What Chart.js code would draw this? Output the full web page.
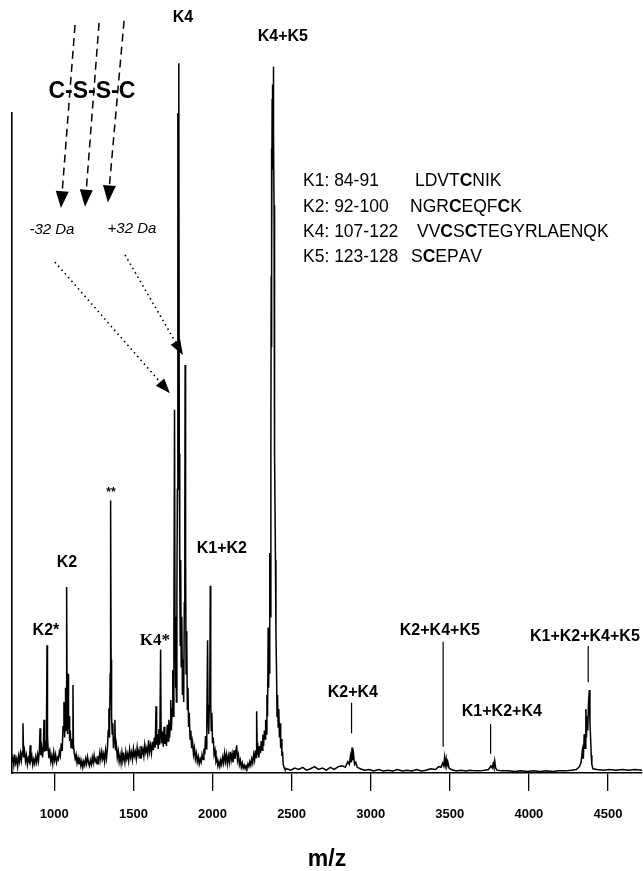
<!DOCTYPE html>
<html>
<head>
<meta charset="utf-8">
<script src="https://cdn.jsdelivr.net/npm/chart.js@4.4.1/dist/chart.umd.min.js"></script>
<style>
  html, body { margin: 0; padding: 0; background: #fff; }
  canvas { display: block; }
</style>
</head>
<body>
<canvas id="chart" width="643" height="871"></canvas>
<script>
// MALDI spectrum trace (m/z, relative intensity)
const mz = [
  731, 738, 744, 750, 756, 762, 768, 774, 780, 786,
  792, 797, 802, 806, 812, 818, 824, 830, 836, 842,
  848, 852, 858, 864, 870, 876, 882, 888, 894, 900,
  906, 910, 914, 920, 926, 931, 935, 939, 944, 948,
  951, 954, 957, 961, 966, 972, 978, 984, 990, 996,
  1002, 1008, 1014, 1020, 1026, 1032, 1038, 1044, 1050, 1055,
  1061, 1065, 1068, 1071, 1074, 1078, 1081, 1084, 1087, 1090,
  1093, 1097, 1101, 1106, 1111, 1115, 1118, 1121, 1126, 1132,
  1138, 1144, 1150, 1156, 1162, 1168, 1174, 1180, 1186, 1192,
  1198, 1204, 1210, 1216, 1222, 1228, 1234, 1240, 1246, 1252,
  1258, 1264, 1270, 1276, 1282, 1288, 1294, 1300, 1306, 1312,
  1318, 1324, 1330, 1336, 1341, 1345, 1349, 1353, 1356, 1359,
  1362, 1366, 1370, 1374, 1378, 1383, 1387, 1392, 1398, 1404,
  1410, 1416, 1422, 1428, 1434, 1440, 1446, 1452, 1458, 1464,
  1470, 1476, 1482, 1488, 1494, 1500, 1506, 1512, 1518, 1524,
  1530, 1536, 1542, 1548, 1554, 1560, 1566, 1572, 1578, 1584,
  1590, 1596, 1602, 1608, 1614, 1620, 1626, 1632, 1638, 1643,
  1647, 1652, 1657, 1662, 1667, 1672, 1675, 1679, 1684, 1689,
  1694, 1699, 1704, 1709, 1714, 1719, 1724, 1729, 1733, 1736,
  1740, 1745, 1749, 1753, 1756, 1760, 1763, 1766, 1769, 1772,
  1775, 1778, 1781, 1784, 1787, 1790, 1793, 1796, 1799, 1802,
  1806, 1810, 1814, 1818, 1822, 1825, 1827, 1830, 1833, 1837,
  1841, 1845, 1849, 1853, 1858, 1863, 1868, 1874, 1880, 1886,
  1892, 1898, 1904, 1910, 1916, 1922, 1928, 1934, 1940, 1946,
  1951, 1956, 1960, 1964, 1969, 1972, 1976, 1980, 1983, 1986,
  1989, 1992, 1996, 2000, 2005, 2010, 2016, 2022, 2028, 2034,
  2040, 2046, 2052, 2058, 2064, 2070, 2076, 2082, 2088, 2094,
  2100, 2106, 2112, 2118, 2124, 2130, 2136, 2142, 2148, 2153,
  2158, 2164, 2170, 2176, 2182, 2188, 2194, 2200, 2206, 2212,
  2218, 2224, 2230, 2236, 2242, 2248, 2254, 2260, 2266, 2271,
  2275, 2279, 2283, 2288, 2293, 2298, 2303, 2308, 2313, 2318,
  2323, 2328, 2332, 2336, 2340, 2344, 2348, 2352, 2355, 2358,
  2361, 2363, 2366, 2369, 2371, 2372, 2374, 2375, 2377, 2378,
  2380, 2381, 2383, 2384, 2386, 2387, 2389, 2390, 2392, 2395,
  2398, 2401, 2405, 2408, 2411, 2415, 2419, 2423, 2427, 2431,
  2435, 2439, 2443, 2447, 2452, 2458, 2470,
  2495, 2520, 2545, 2570, 2595, 2620, 2645, 2670, 2695, 2720,
  2745, 2770, 2795, 2820, 2840, 2855, 2865, 2872, 2878, 2882,
  2886, 2892, 2898, 2906, 2915, 2935, 2960, 2990, 3020, 3050,
  3080, 3110, 3140, 3170, 3200, 3230, 3260, 3290, 3320, 3350,
  3380, 3410, 3430, 3445, 3455, 3462, 3467, 3472, 3477, 3482,
  3488, 3495, 3510, 3540, 3570, 3600, 3630, 3660, 3690, 3720,
  3745, 3760, 3768, 3774, 3779, 3784, 3790, 3798, 3830, 3870,
  3910, 3950, 3990, 4030, 4070, 4110, 4150, 4190, 4230, 4270,
  4300, 4320, 4330, 4338, 4344, 4350, 4355, 4360, 4364, 4368,
  4372, 4377, 4382, 4386, 4390, 4394, 4398, 4405, 4430, 4470,
  4510, 4550, 4590, 4630, 4670, 4715
];
const intensity = [
  1.5, 2.2, 1.1, 2.6, 1.4, 2.0, 0.9, 2.4, 1.6, 2.8,
  1.8, 3.0, 7.0, 2.2, 3.1, 1.7, 2.5, 1.2, 2.1, 1.6,
  3.9, 1.8, 2.4, 1.1, 1.9, 1.3, 2.3, 1.5, 2.6, 1.7,
  3.3, 6.3, 2.5, 3.6, 2.2, 4.0, 7.5, 3.0, 4.6, 3.2,
  8.0, 18.0, 5.2, 3.4, 2.1, 3.0, 1.6, 2.4, 1.3, 2.9,
  1.8, 2.6, 1.5, 2.2, 1.9, 3.0, 2.4, 4.2, 3.1, 6.5,
  10.0, 5.0, 7.8, 12.0, 6.0, 26.2, 9.0, 5.5, 14.0, 6.2,
  8.0, 4.5, 6.0, 3.6, 4.8, 3.5, 12.4, 4.0, 2.8, 2.0,
  2.6, 1.4, 2.1, 1.2, 1.9, 1.0, 1.7, 0.8, 1.6, 1.1,
  2.0, 1.3, 2.3, 1.5, 1.0, 1.8, 1.2, 2.2, 1.4, 2.5,
  1.6, 2.0, 1.3, 2.4, 1.7, 2.9, 1.9, 3.0, 2.0, 2.7,
  1.6, 3.2, 2.1, 3.6, 6.0, 9.1, 5.0, 14.0, 38.4, 16.0,
  8.0, 5.5, 7.0, 3.5, 5.0, 7.5, 3.2, 4.0, 2.2, 3.1,
  1.6, 2.5, 1.4, 2.9, 1.8, 2.4, 1.5, 3.0, 2.0, 2.7,
  1.7, 3.3, 2.2, 2.9, 1.9, 3.4, 2.4, 3.0, 2.0, 3.6,
  2.5, 3.2, 2.1, 3.8, 2.7, 3.4, 2.4, 4.0, 2.9, 3.5,
  2.6, 4.6, 3.0, 3.9, 2.8, 4.4, 3.2, 5.0, 3.6, 9.4,
  4.0, 5.5, 3.4, 6.2, 4.0, 17.4, 6.0, 4.2, 5.8, 3.7,
  6.5, 4.1, 5.4, 3.8, 6.8, 4.5, 7.5, 5.0, 7.0, 10.3,
  6.0, 9.0, 14.5, 8.0, 20.0, 51.2, 22.0, 12.0, 18.0, 10.0,
  25.0, 40.0, 93.0, 60.0, 100, 45.0, 28.0, 18.0, 30.0, 15.0,
  22.0, 11.0, 16.0, 10.0, 24.0, 35.0, 57.5, 30.0, 14.0, 20.0,
  9.0, 12.0, 6.5, 8.5, 4.8, 6.0, 3.5, 4.4, 2.6, 3.5,
  2.0, 2.8, 1.6, 2.3, 1.3, 2.0, 1.5, 2.6, 1.9, 3.4,
  2.6, 5.2, 3.4, 7.0, 18.7, 8.0, 5.5, 9.5, 12.0, 26.4,
  10.0, 6.0, 8.5, 4.2, 5.0, 2.6, 3.2, 1.6, 2.0, 1.0,
  1.6, 0.9, 1.8, 1.2, 2.2, 1.4, 2.8, 1.6, 2.6, 1.3,
  2.4, 1.5, 3.0, 1.8, 2.7, 1.5, 3.2, 2.0, 3.0, 3.9,
  1.8, 2.5, 1.2, 1.8, 0.8, 1.4, 0.7, 1.1, 0.6, 1.0,
  0.7, 1.3, 0.9, 1.6, 1.1, 2.0, 1.4, 2.6, 1.8, 3.2,
  2.2, 8.7, 2.6, 3.5, 2.2, 3.8, 2.8, 4.5, 3.2, 5.4,
  3.8, 6.0, 4.8, 7.5, 5.5, 11.0, 8.0, 20.5, 12.0, 18.0,
  14.0, 31.0, 22.0, 45.0, 70.0, 60.0, 88.0, 72.0, 95.0, 90.0,
  97.0, 85.0, 92.0, 96.0, 99.5, 90.0, 80.0, 62.0, 55.0, 45.0,
  30.0, 20.0, 14.0, 8.0, 11.0, 6.5, 9.0, 5.0, 7.0, 3.5,
  4.8, 2.4, 3.0, 1.2, 0.8, 0.5, 0.6,
  0.4, 0.7, 0.5, 0.8, 0.4, 0.6, 0.9, 0.5, 0.7, 0.4,
  0.8, 0.5, 0.9, 1.0, 0.8, 1.6, 1.2, 2.4, 1.5, 3.6,
  1.8, 2.6, 1.2, 1.5, 0.8, 0.6, 0.4, 0.5, 0.3, 0.5,
  0.3, 0.4, 0.3, 0.5, 0.3, 0.4, 0.3, 0.5, 0.3, 0.4,
  0.6, 0.5, 0.9, 0.8, 1.4, 1.0, 2.2, 1.2, 2.0, 1.0,
  1.5, 0.7, 0.5, 0.3, 0.4, 0.3, 0.4, 0.3, 0.3, 0.4,
  0.5, 1.0, 0.7, 1.3, 0.8, 1.7, 0.7, 0.4, 0.3, 0.3,
  0.2, 0.3, 0.2, 0.3, 0.2, 0.3, 0.2, 0.3, 0.3, 0.4,
  0.5, 0.9, 1.5, 3.2, 2.0, 5.5, 3.5, 9.0, 5.0, 8.0,
  6.0, 10.0, 11.7, 7.0, 5.0, 2.5, 1.2, 0.6, 0.5, 0.4,
  0.5, 0.4, 0.5, 0.4, 0.5, 0.4
];
const xTickValues = [1000, 1500, 2000, 2500, 3000, 3500, 4000, 4500];

// peak annotations (label text, anchor m/z, anchor intensity)
const peakLabels = ['K4', 'K4+K5', '**', 'K2', 'K2*', 'K4*', 'K1+K2', 'K2+K4', 'K2+K4+K5', 'K1+K2+K4', 'K1+K2+K4+K5'];
const peakLabelMz = [1813, 2445, 1358, 1080, 947, 1636, 2059, 2887, 3437, 3829, 4354];
const peakLabelLevel = [106.4, 103.7, 39.5, 29.7, 20.1, 18.7, 31.6, 11.4, 20.1, 8.6, 19.2];

// short marker lines under the small adduct labels
const markerMz = [2879, 3458, 3758, 4375];
const markerTop = [9.9, 18.5, 6.9, 17.9];
const markerBottom = [5.6, 3.7, 2.7, 12.8];

// fragment table
const fragmentNames = ['K1: 84-91', 'K2: 92-100', 'K4: 107-122', 'K5: 123-128'];
const fragmentSeqs = ['LDVTCNIK', 'NGRCEQFCK', 'VVCSCTEGYRLAENQK', 'SCEPAV'];

const SANS = '"Liberation Sans", Arial, sans-serif';
const SERIF = '"Liberation Serif", "Times New Roman", serif';

function arrowHead(ctx, x1, y1, x2, y2, len, half) {
    const a = Math.atan2(y2 - y1, x2 - x1);
    ctx.beginPath();
    ctx.moveTo(x2, y2);
    ctx.lineTo(x2 - len * Math.cos(a) + half * Math.sin(a), y2 - len * Math.sin(a) - half * Math.cos(a));
    ctx.lineTo(x2 - len * Math.cos(a) - half * Math.sin(a), y2 - len * Math.sin(a) + half * Math.cos(a));
    ctx.closePath();
    ctx.fill();
}

const annotations = {
    id: 'annotations',
    afterDraw(chart) {
        const ctx = chart.ctx;
        const X = v => chart.scales.x.getPixelForValue(v);
        const Y = v => chart.scales.y.getPixelForValue(v);
        ctx.save();
        ctx.fillStyle = '#000';
        ctx.strokeStyle = '#000';

        // peak labels
        ctx.textAlign = 'center';
        ctx.textBaseline = 'middle';
        peakLabels.forEach((t, i) => {
            if (t === 'K4*') ctx.font = 'bold 17px ' + SERIF;
            else if (t === '**') ctx.font = 'bold 12px ' + SANS;
            else ctx.font = 'bold 16px ' + SANS;
            ctx.fillText(t, X(peakLabelMz[i]), Y(peakLabelLevel[i]));
        });

        ctx.lineWidth = 1.2;
        markerMz.forEach((m, i) => {
            ctx.beginPath();
            ctx.moveTo(X(m), Y(markerTop[i]));
            ctx.lineTo(X(m), Y(markerBottom[i]));
            ctx.stroke();
        });

        // disulfide scrambling arrows
        const dashTop = [[1131, 105.4], [1283, 105.7], [1441, 106.0]];
        const dashTip = [[1042, 79.6], [1194, 79.8], [1339, 80.4]];
        ctx.lineWidth = 1.5;
        dashTop.forEach((p, i) => {
            const x1 = X(p[0]), y1 = Y(p[1]), x2 = X(dashTip[i][0]), y2 = Y(dashTip[i][1]);
            const a = Math.atan2(y2 - y1, x2 - x1);
            ctx.setLineDash([8, 5]);
            ctx.beginPath();
            ctx.moveTo(x1, y1);
            ctx.lineTo(x2 - 12 * Math.cos(a), y2 - 12 * Math.sin(a));
            ctx.stroke();
            ctx.setLineDash([]);
            arrowHead(ctx, x1, y1, x2, y2, 17, 6.5);
        });

        ctx.font = 'bold 23px ' + SANS;
        ctx.fillText('C-S-S-C', X(1238), Y(96));

        ctx.font = 'italic 15px ' + SANS;
        ctx.fillText('-32 Da', X(985), Y(76.5));
        ctx.fillText('+32 Da', X(1491), Y(76.7));

        const dotFrom = [[1004, 72.0], [1447, 73.0]];
        const dotTo = [[1731, 53.5], [1813, 58.9]];
        ctx.lineWidth = 1.6;
        dotFrom.forEach((p, i) => {
            const x1 = X(p[0]), y1 = Y(p[1]), x2 = X(dotTo[i][0]), y2 = Y(dotTo[i][1]);
            const a = Math.atan2(y2 - y1, x2 - x1);
            ctx.setLineDash([1.5, 3.5]);
            ctx.beginPath();
            ctx.moveTo(x1, y1);
            ctx.lineTo(x2 - 10 * Math.cos(a), y2 - 10 * Math.sin(a));
            ctx.stroke();
            ctx.setLineDash([]);
            arrowHead(ctx, x1, y1, x2, y2, 15, 5.5);
        });

        // fragment table
        ctx.textAlign = 'left';
        const rowY = [181, 207, 232, 257];
        const seqX = [415, 410, 417, 411];
        fragmentNames.forEach((n, i) => {
            ctx.font = '17.5px ' + SANS;
            ctx.fillText(n, 303, rowY[i]);
            let x = seqX[i];
            for (const ch of fragmentSeqs[i]) {
                ctx.font = (ch === 'C' ? 'bold ' : '') + '17.5px ' + SANS;
                ctx.fillText(ch, x, rowY[i]);
                x += ctx.measureText(ch).width;
            }
        });
        ctx.restore();
    }
};

new Chart(document.getElementById('chart'), {
    type: 'line',
    data: {
        datasets: [{
            data: mz.map((m, i) => ({x: m, y: intensity[i]})),
            borderColor: '#000',
            borderWidth: 1.5,
            pointRadius: 0,
            tension: 0,
            clip: false
        }]
    },
    options: {
        responsive: false,
        animation: false,
        devicePixelRatio: 1,
        layout: {padding: {top: 113, left: 12, right: 1, bottom: 0}},
        plugins: {legend: {display: false}, tooltip: {enabled: false}},
        scales: {
            x: {
                type: 'linear',
                min: 732.6,
                max: 4715,
                afterBuildTicks: axis => { axis.ticks = xTickValues.map(v => ({value: v})); },
                grid: {drawOnChartArea: false, drawTicks: true, tickLength: 18, color: '#000', lineWidth: 1.3},
                border: {display: true, color: '#000', width: 1.6},
                ticks: {
                    color: '#000',
                    padding: 17,
                    maxRotation: 0,
                    autoSkip: false,
                    font: {family: SANS, size: 13, weight: 'bold', lineHeight: 1},
                    callback: v => String(v)
                },
                title: {
                    display: true,
                    text: 'm/z',
                    color: '#000',
                    font: {family: SANS, size: 23, weight: 'bold', lineHeight: 1},
                    padding: {top: 10, bottom: 0}
                }
            },
            y: {
                min: 0,
                max: 93,
                grid: {drawOnChartArea: false, drawTicks: false},
                border: {display: true, color: '#000', width: 1.6},
                ticks: {display: false}
            }
        }
    },
    plugins: [annotations]
});
</script>
</body>
</html>
